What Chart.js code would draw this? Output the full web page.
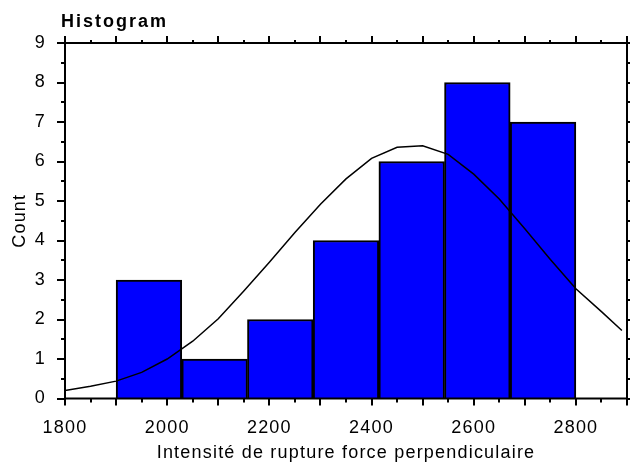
<!DOCTYPE html>
<html>
<head>
<meta charset="utf-8">
<script src="https://cdn.jsdelivr.net/npm/chart.js@4"></script>
<style>
  html, body { margin: 0; padding: 0; background: #fff; }
</style>
</head>
<body>
<canvas id="histChart" width="630" height="466"></canvas>
<script>
// histogram bins: centres (7 bins of ~128.6 from 1900 to 2800) and counts
const binCenters = [1964.3, 2092.9, 2221.4, 2350.0, 2478.6, 2607.1, 2735.7];
const binCounts = [3, 1, 2, 4, 6, 8, 7];

// fitted curve
const curveX = [1800, 1850, 1900, 1950, 2000, 2050, 2100, 2150, 2200, 2250, 2300, 2350,
  2400, 2450, 2500, 2550, 2600, 2650, 2700, 2750, 2800, 2850, 2890];
const curveY = [0.2, 0.31, 0.44, 0.66, 1.0, 1.45, 2.02, 2.72, 3.45, 4.2, 4.92, 5.56,
  6.08, 6.36, 6.4, 6.18, 5.68, 5.05, 4.3, 3.52, 2.78, 2.2, 1.72];

const xTickLabels = [1800, 2000, 2200, 2400, 2600, 2800];
const yTickLabels = [0, 1, 2, 3, 4, 5, 6, 7, 8, 9];

const FONT = "'Liberation Sans', Arial, sans-serif";

// letter spacing like the original (canvas state is reset on resize, so set it each time)
const spacing = {
  id: "spacing",
  beforeUpdate(chart) { chart.ctx.letterSpacing = "1.2px"; },
  beforeDraw(chart) { chart.ctx.letterSpacing = "1.2px"; },
};

// frame round the plot with major / minor ticks on all four sides
const frame = {
  id: "frame",
  afterDatasetsDraw(chart) {
    const { ctx, chartArea: a, scales } = chart;
    const xs = scales.x, ys = scales.y;
    ctx.save();
    ctx.strokeStyle = "#000";
    ctx.lineWidth = 2;
    ctx.strokeRect(a.left, a.top, a.right - a.left, a.bottom - a.top);

    ctx.beginPath();
    for (let v = 1800; v <= 2900; v += 50) {
      const px = Math.round(xs.getPixelForValue(v));
      const major = v % 100 === 0;
      ctx.moveTo(px, a.bottom);
      ctx.lineTo(px, a.bottom + (major ? 7 : 4));
      ctx.moveTo(px, a.top);
      ctx.lineTo(px, a.top - (major ? 7 : 3));
    }
    for (let v = 0; v <= 9; v += 0.5) {
      const py = Math.round(ys.getPixelForValue(v));
      const major = v % 1 === 0;
      ctx.moveTo(a.left, py);
      ctx.lineTo(a.left - (major ? 8 : 4), py);
      ctx.moveTo(a.right, py);
      ctx.lineTo(a.right + (major ? 8 : 4), py);
    }
    ctx.stroke();

    // chart title
    ctx.letterSpacing = "2px";
    ctx.fillStyle = "#000";
    ctx.font = "bold 18px " + FONT;
    ctx.textAlign = "left";
    ctx.textBaseline = "alphabetic";
    ctx.fillText("Histogram", 61, 27);
    ctx.restore();
  },
};

const ctx = document.getElementById("histChart").getContext("2d");

new Chart(ctx, {
  data: {
    datasets: [
      {
        type: "line",
        label: "Fit",
        data: curveX.map((x, i) => ({ x: x, y: curveY[i] })),
        borderColor: "#000",
        borderWidth: 1.5,
        pointRadius: 0,
        tension: 0,
        order: 0,
      },
      {
        type: "bar",
        label: "Count",
        data: binCenters.map((x, i) => ({ x: x, y: binCounts[i] })),
        backgroundColor: "#0000ff",
        borderColor: "#000",
        borderWidth: 2,
        barPercentage: 1,
        categoryPercentage: 1,
        order: 1,
      },
    ],
  },
  options: {
    responsive: false,
    animation: false,
    layout: { padding: { top: 43, right: 3, left: 0, bottom: 0 } },
    plugins: { legend: { display: false }, tooltip: { enabled: false } },
    scales: {
      x: {
        type: "linear",
        min: 1800,
        max: 2900,
        offset: false,
        afterBuildTicks: (scale) => {
          scale.ticks = xTickLabels.map((v) => ({ value: v }));
        },
        afterFit: (scale) => { scale.height = 67.5; },
        grid: { display: false, drawTicks: false, offset: false },
        border: { display: false },
        ticks: {
          padding: 19,
          color: "#000",
          font: { family: FONT, size: 18 },
          maxRotation: 0,
          callback: (v) => String(v),
        },
        title: {
          display: true,
          text: "Intensité de rupture force perpendiculaire",
          color: "#000",
          font: { family: FONT, size: 18 },
          padding: { top: 0, bottom: 2 },
        },
      },
      y: {
        min: 0,
        max: 9,
        afterBuildTicks: (scale) => {
          scale.ticks = yTickLabels.map((v) => ({ value: v }));
        },
        afterFit: (scale) => { scale.width = 65; },
        grid: { display: false, drawTicks: false },
        border: { display: false },
        ticks: { padding: 19, color: "#000", font: { family: FONT, size: 18 } },
        title: {
          display: true,
          text: "Count",
          color: "#000",
          font: { family: FONT, size: 18 },
          padding: { top: 9, bottom: 0 },
        },
      },
    },
  },
  plugins: [spacing, frame],
});
</script>
</body>
</html>
